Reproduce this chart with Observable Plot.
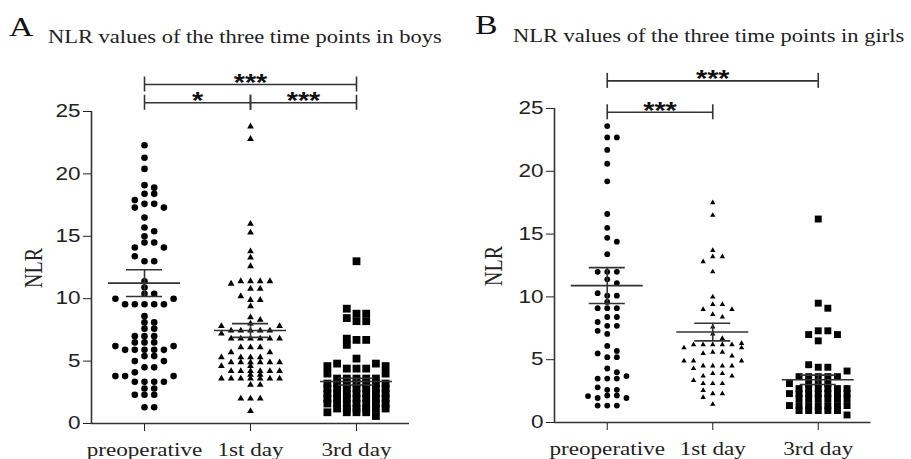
<!DOCTYPE html>
<html><head><meta charset="utf-8">
<script src="https://cdn.jsdelivr.net/npm/d3@7"></script>
<script src="https://cdn.jsdelivr.net/npm/@observablehq/plot@0.6"></script>
<style>
body{margin:0;background:#fff;}
#wrap{position:relative;width:911px;height:459px;overflow:hidden;background:#fff;}
#wrap svg{position:absolute;overflow:visible;}
svg [aria-label="y-axis tick label"] text, svg [aria-label="y-axis tick label"]{font-family:"Liberation Sans",Arial,sans-serif;font-size:18px;}
svg [aria-label="x-axis tick label"] text, svg [aria-label="x-axis tick label"]{font-family:"Liberation Serif","Times New Roman",serif;font-size:18.5px;}
</style>
</head><body><div id="wrap"></div>
<script>
// ---------- data ----------
const categories = ["preoperative", "1st day", "3rd day"];
const yTicks = [0, 5, 10, 15, 20, 25];

const boysPre = [22.3, 21.3, 20.4, 19.1, 18.9, 18.4, 18.4, 17.9, 17.6, 17.6, 17.3, 17.3, 16.5, 15.7, 15.4, 15.0,
  14.5, 14.5, 14.1, 14.1, 13.4, 13.0, 13.0, 11.4, 10.9, 10.4, 10.4, 10.0, 10.0, 9.55, 9.55, 9.55, 9.55, 9.55,
  8.6, 8.1, 8.1, 7.6, 7.6, 7.0, 7.0, 7.0, 6.5, 6.5, 6.5, 6.2, 6.2, 5.9, 5.9, 5.9, 5.9, 5.9, 5.4, 5.4, 5.0, 5.0,
  4.5, 4.5, 4.1, 3.8, 3.8, 3.8, 3.35, 3.35, 3.35, 3.35, 2.8, 2.8, 2.3, 2.3, 2.3, 1.3, 1.3];
const boysDay1 = [23.8, 22.8, 16.0, 15.3, 13.8, 13.3, 12.6, 11.4, 11.4, 11.4, 11.4, 11.2, 10.8, 10.8, 10.2, 9.9, 9.9,
  9.4, 8.5, 8.3, 8.0, 7.8, 7.8, 7.45, 7.45, 7.45, 7.45, 7.45, 7.2, 6.8, 6.8, 6.8, 6.8, 6.8, 6.8, 6.1, 6.1, 6.1,
  5.7, 5.7, 5.3, 5.3, 5.3, 5.3, 4.9, 4.9, 4.9, 4.9, 4.9, 4.9, 4.6, 4.6, 4.2, 4.2, 4.2, 4.2, 4.2, 4.2, 3.9, 3.9,
  3.6, 3.6, 3.6, 3.6, 3.6, 3.6, 3.6, 3.1, 3.1, 2.0, 2.0, 2.0, 1.0];
const boysDay3 = [13.0, 9.2, 8.8, 8.8, 8.45, 8.2, 8.2, 6.8, 6.7, 6.7, 6.3, 5.2, 4.8, 4.8, 4.6, 4.6, 4.4, 4.4, 4.4, 4.0, 4.0,
  3.6, 3.6, 3.6, 3.6, 3.6, 3.2, 3.2, 3.2, 3.2, 3.2, 3.2, 3.2, 2.8, 2.8, 2.8, 2.8, 2.8, 2.8, 2.8,
  2.4, 2.4, 2.4, 2.4, 2.4, 2.4, 2.4, 2.0, 2.0, 2.0, 2.0, 2.0, 2.0, 2.0, 1.6, 1.6, 1.6, 1.6, 1.6, 1.6, 1.6,
  1.2, 1.2, 1.2, 1.2, 1.2, 1.2, 0.9, 0.9, 0.9, 0.9, 0.6];

const girlsPre = [23.6, 22.7, 22.7, 21.7, 20.6, 19.2, 16.6, 15.5, 14.7, 14.4, 13.4, 12.0, 12.0, 12.0, 11.4, 11.1, 10.3,
  10.1, 10.1, 9.6, 9.1, 9.1, 9.1, 8.4, 8.4, 8.0, 7.7, 7.7, 7.3, 7.05, 6.1, 5.7, 5.5, 5.2, 5.2, 4.3, 4.0, 3.7,
  3.5, 3.5, 3.5, 2.8, 2.6, 2.6, 2.15, 2.15, 2.1, 1.95, 1.95, 1.35, 1.35, 1.35];
const girlsDay1 = [17.5, 16.5, 13.7, 13.2, 13.2, 12.8, 12.0, 10.0, 9.4, 9.4, 9.0, 9.0, 8.6, 8.4, 7.6, 7.05, 6.7, 6.3,
  6.2, 6.2, 6.2, 6.2, 6.2, 5.95, 5.95, 5.6, 5.6, 5.5, 5.3, 4.9, 4.9, 4.9, 4.5, 4.5, 4.5, 4.5, 4.3, 3.9, 3.9,
  3.7, 3.7, 3.35, 3.1, 3.1, 3.1, 2.55, 2.3, 2.3, 2.0, 1.45];
const girlsDay3 = [16.2, 9.5, 9.1, 7.3, 7.3, 7.0, 7.0, 6.5, 4.6, 4.4, 4.4, 4.1, 3.65, 3.65, 3.65, 3.65, 3.65,
  3.1, 3.1, 3.1, 3.1, 2.7, 2.7, 2.7, 2.7, 2.7, 2.7, 2.3, 2.3, 2.3, 2.3, 2.3, 2.3, 2.3,
  1.9, 1.9, 1.9, 1.9, 1.9, 1.9, 1.35, 1.35, 1.35, 1.35, 1.35, 1.35, 1.35, 0.95, 0.95, 0.95, 0.95, 0.95, 0.6];

const boysMeans = [11.25, 7.45, 3.36];
const boysSEM = [1.07, 0.55, 0.27];
const girlsMeans = [10.9, 7.2, 3.4];
const girlsSEM = [1.43, 0.7, 0.37];

const boysBrackets = [
  {from: 0, to: 2, label: "***", level: 27.16},
  {from: 0, to: 1, label: "*", level: 25.7},
  {from: 1, to: 2, label: "***", level: 25.7}
];
const girlsBrackets = [
  {from: 0, to: 2, label: "***", level: 27.2},
  {from: 0, to: 1, label: "***", level: 24.7}
];
const symbols = ["circle", "triangle", "square"];

// ---------- layout helpers ----------
function beeswarm(values, minDy, maxCol) {
  const rows = d3.rollups(values, v => v.length, v => v).map(([v, n]) => ({v, n}));
  rows.sort((a, b) => b.n - a.n || b.v - a.v);
  const cands = [0];
  for (let k = 1; k <= maxCol; k++) cands.push(k, -k);
  const placed = [], out = [];
  for (const r of rows) {
    const score = cands.map(c => {
      let m = Infinity;
      for (const p of placed) if (p.col === c) m = Math.min(m, Math.abs(p.v - r.v));
      return {c, m};
    });
    const free = score.filter(s => s.m >= minDy);
    const rest = score.filter(s => s.m < minDy).sort((a, b) => b.m - a.m);
    const chosen = free.concat(rest);
    for (let i = 0; i < r.n; i++) {
      const c = chosen[i % chosen.length].c;
      placed.push({v: r.v, col: c});
      out.push({value: r.v, col: c});
    }
  }
  return out;
}

function panel(cfg) {
  const xDomain = [-0.5, 2.5];
  const pxPerUnit = (cfg.width - cfg.ml - cfg.mr) / (xDomain[1] - xDomain[0]);
  const step = cfg.colPx / pxPerUnit;
  const groups = cfg.data.map((vals, i) =>
    beeswarm(vals, cfg.minDy, 3).map(d => ({value: d.value, x: i + d.col * step})));
  const stats = cfg.means.map((m, i) => ({i, m, lo: m - cfg.sems[i], hi: m + cfg.sems[i]}));
  const meanHalf = 36 / pxPerUnit, capHalf = 18 / pxPerUnit;
  const tickHalf = 7.5 * 25 / (cfg.height - cfg.mt - cfg.mb);
  const lineColor = "#333";
  return Plot.plot({
    width: cfg.width, height: cfg.height,
    marginTop: cfg.mt, marginBottom: cfg.mb, marginLeft: cfg.ml, marginRight: cfg.mr,
    style: {background: "transparent", color: "#222", overflow: "visible"},
    x: {type: "linear", domain: xDomain, ticks: [0, 1, 2], tickFormat: i => categories[i],
        tickSize: 8, tickPadding: 11, label: null},
    y: {domain: [0, 25], ticks: yTicks, tickSize: 8, tickPadding: 3, label: null},
    marks: [
      Plot.ruleY([0], {stroke: lineColor, strokeWidth: 1.6}),
      Plot.ruleX([xDomain[0]], {y1: 0, y2: 25, stroke: lineColor, strokeWidth: 1.6}),
      ...groups.map((g, i) => Plot.dot(g, {x: "x", y: "value", symbol: symbols[i], r: cfg.sizes[i],
        fill: "#000", stroke: "none"})),
      Plot.ruleY(stats, {y: "m", x1: d => d.i - meanHalf, x2: d => d.i + meanHalf, stroke: lineColor, strokeWidth: 1.6}),
      Plot.ruleY(stats, {y: "hi", x1: d => d.i - capHalf, x2: d => d.i + capHalf, stroke: lineColor, strokeWidth: 1.6}),
      Plot.ruleY(stats, {y: "lo", x1: d => d.i - capHalf, x2: d => d.i + capHalf, stroke: lineColor, strokeWidth: 1.6}),
      Plot.ruleX(stats, {x: "i", y1: "lo", y2: "hi", stroke: lineColor, strokeWidth: 1.6}),
      Plot.ruleY(cfg.brackets, {y: "level", x1: "from", x2: "to", stroke: lineColor, strokeWidth: 1.6}),
      Plot.ruleX(cfg.brackets, {x: "from", y1: d => d.level - tickHalf, y2: d => d.level + tickHalf, stroke: lineColor, strokeWidth: 1.6}),
      Plot.ruleX(cfg.brackets, {x: "to", y1: d => d.level - tickHalf, y2: d => d.level + tickHalf, stroke: lineColor, strokeWidth: 1.6}),
      Plot.text(cfg.brackets, {x: d => (d.from + d.to) / 2, y: "level", text: "label", dy: -1,
        fontSize: 23, fontWeight: "bold", fontFamily: "Liberation Sans, Arial, sans-serif", fill: "#111"})
    ]
  });
}

function stretch(root, k) {
  root.querySelectorAll("text").forEach(t => {
    if (t.dataset.nostretch) return;
    const L = t.getComputedTextLength();
    if (L > 0) {
      t.setAttribute("textLength", (L * k).toFixed(2));
      t.setAttribute("lengthAdjust", "spacingAndGlyphs");
    }
  });
}

const wrap = document.getElementById("wrap");
const svgA = panel({
  data: [boysPre, boysDay1, boysDay3], means: boysMeans, sems: boysSEM, brackets: boysBrackets,
  width: 455, height: 404, mt: 56, mb: 36, ml: 91, mr: 46, colPx: 9.7, minDy: 0.5,
  sizes: [3.3, 2.5, 4.4]
});
svgA.style.left = "0px"; svgA.style.top = "55px";
wrap.appendChild(svgA);

const svgB = panel({
  data: [girlsPre, girlsDay1, girlsDay3], means: girlsMeans, sems: girlsSEM, brackets: girlsBrackets,
  width: 456, height: 404, mt: 53, mb: 37, ml: 99, mr: 40.5, colPx: 9.6, minDy: 0.45,
  sizes: [2.9, 2.0, 3.9]
});
svgB.style.left = "455px"; svgB.style.top = "55px";
wrap.appendChild(svgB);

// headings and axis titles
const ns = "http://www.w3.org/2000/svg";
const over = document.createElementNS(ns, "svg");
over.setAttribute("width", 911); over.setAttribute("height", 459);
over.style.left = "0px"; over.style.top = "0px";
wrap.appendChild(over);
function addText(str, x, y, size, opts = {}) {
  const t = document.createElementNS(ns, "text");
  t.textContent = str;
  t.setAttribute("x", x); t.setAttribute("y", y);
  t.setAttribute("font-family", "Liberation Serif, Times New Roman, serif");
  t.setAttribute("font-size", size);
  t.setAttribute("fill", opts.fill || "#111");
  if (opts.anchor) t.setAttribute("text-anchor", opts.anchor);
  if (opts.transform) { t.setAttribute("transform", opts.transform); t.dataset.nostretch = "1"; }
  if (opts.dy) t.setAttribute("dy", opts.dy);
  over.appendChild(t);
  return t;
}
addText("A", 9, 36, 27);
addText("NLR values of the three time points in boys", 48, 43, 18, {fill: "#222"});
addText("B", 475, 34, 27);
addText("NLR values of the three time points in girls", 513, 42, 18, {fill: "#222"});
addText("NLR", 0, 0, 20, {anchor: "middle", dy: "0.35em", fill: "#222", transform: "translate(33,268) rotate(-90) scale(1,1.25)"});
addText("NLR", 0, 0, 20, {anchor: "middle", dy: "0.35em", fill: "#222", transform: "translate(493,266) rotate(-90) scale(1,1.25)"});

stretch(wrap, 1.25);
</script>
</body></html>
